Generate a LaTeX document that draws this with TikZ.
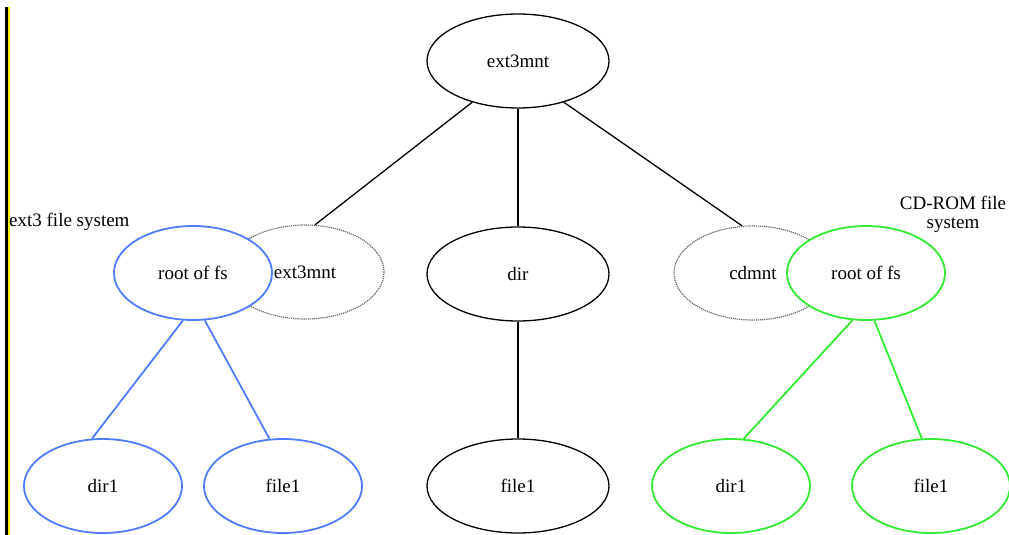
\documentclass[tikz,border=0pt]{standalone}
\usepackage{fontspec}
\setmainfont{Liberation Serif}
\usetikzlibrary{shapes.geometric}
\definecolor{fsblue}{RGB}{80,125,255}
\definecolor{fsgreen}{RGB}{50,235,50}
\begin{document}
\begin{tikzpicture}[x=1pt,y=-1pt,
  every node/.style={font=\fontsize{19}{22}\selectfont},
  ell/.style={ellipse,draw,inner sep=0pt,minimum width=158pt,minimum height=94pt,line width=1.3pt,fill=white},
  wide/.style={minimum width=182pt},
  blueell/.style={ell,draw=fsblue,line width=1.8pt},
  greenell/.style={ell,draw=fsgreen,line width=1.8pt},
  dotell/.style={ell,draw=black!60,dash pattern=on 1.2pt off 0.9pt,line width=1.2pt},
  edge/.style={line width=1.3pt},
  blueedge/.style={draw=fsblue,line width=1.8pt},
  greenedge/.style={draw=fsgreen,line width=1.8pt},
  lbl/.style={inner sep=0pt,align=center}]
\useasboundingbox[fill=white] (0,0) rectangle (1009,535);
% left border bars
\fill[black] (5,7) rectangle (7.5,535);
\fill[yellow] (7.5,7) rectangle (9.5,535);
% nodes
\node[ell,wide] (top) at (518,61) {ext3mnt};
\node[dotell] (m1) at (305,272) {ext3mnt};
\node[dotell] (cd) at (753,273) {cdmnt};
\node[blueell] (broot) at (193,273) {root of fs};
\node[greenell] (groot) at (866,273) {root of fs};
\node[ell,wide] (dir) at (518,274) {dir};
\node[blueell] (bdir) at (103,486) {dir1};
\node[blueell] (bfile) at (283,486) {file1};
\node[ell,wide] (mfile) at (518,486) {file1};
\node[greenell] (gdir) at (731,486) {dir1};
\node[greenell] (gfile) at (931,486) {file1};
% labels
\node[lbl,anchor=west] (l1) at (9,222) {ext3 file system};
\node[lbl] (l2) at (953,214) {CD-ROM file\\[-3pt]system};
% edges
\draw[edge] (top.222) -- (m1.78);
\draw[edge] (top.south) -- (dir.north);
\draw[edge] (top.318) -- (cd.103);
\draw[edge] (dir.south) -- (mfile.north);
\draw[blueedge] (broot.258) -- (bdir.103);
\draw[blueedge] (broot.284) -- (bfile.106);
\draw[greenedge] (groot.254) -- (gdir.75);
\draw[greenedge] (groot.280) -- (gfile.101);
\end{tikzpicture}
\end{document}
